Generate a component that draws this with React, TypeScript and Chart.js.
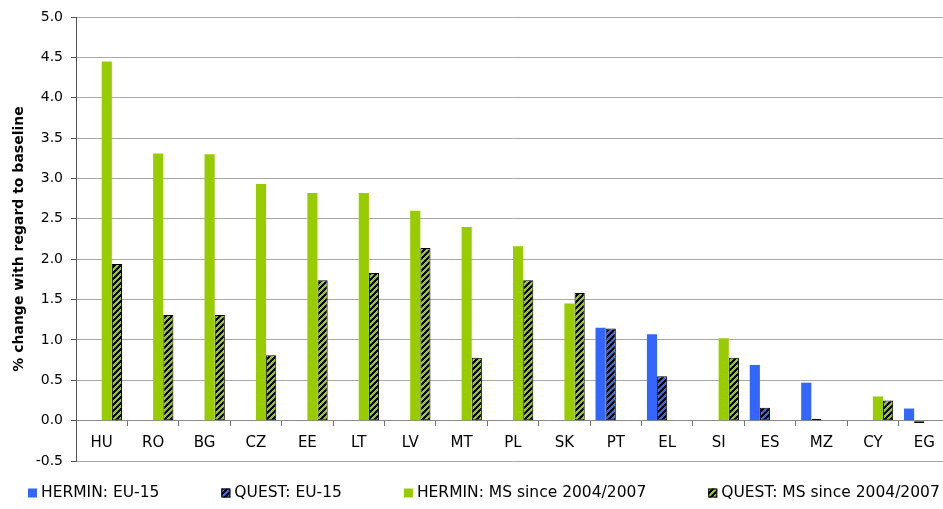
import React, { useEffect, useRef } from "react";
import { Chart, registerables } from "chart.js";

Chart.register(...registerables);

// Countries along the horizontal axis
const categories = ["HU", "RO", "BG", "CZ", "EE", "LT", "LV", "MT", "PL", "SK", "PT", "EL", "SI", "ES", "MZ", "CY", "EG"];

// % change with regard to baseline, per model and country group
const herminEU15 = [null, null, null, null, null, null, null, null, null, null, 1.15, 1.07, null, 0.69, 0.47, null, 0.15];
const questEU15 = [null, null, null, null, null, null, null, null, null, null, 1.14, 0.55, null, 0.16, 0.02, null, -0.03];
const herminMS = [4.45, 3.31, 3.30, 2.93, 2.82, 2.82, 2.60, 2.40, 2.16, 1.45, null, null, 1.02, null, null, 0.30, null];
const questMS = [1.94, 1.31, 1.31, 0.81, 1.74, 1.83, 2.14, 0.78, 1.74, 1.58, null, null, 0.78, null, null, 0.25, null];

const seriesLabels = ["HERMIN: EU-15", "QUEST: EU-15", "HERMIN: MS since 2004/2007", "QUEST: MS since 2004/2007"];

const Y_MIN = -0.5;
const Y_MAX = 5.0;
const Y_STEP = 0.5;

const BLUE = "#3366FF";
const GREEN = "#99CC00";
const FONT = '"DejaVu Sans", sans-serif';

// Diagonal black stripes over a base colour
function makeHatch(color: string): CanvasPattern | string {
  const n = 6;
  const c = document.createElement("canvas");
  c.width = n;
  c.height = n;
  const g = c.getContext("2d");
  if (!g) return color;
  g.fillStyle = color;
  g.fillRect(0, 0, n, n);
  g.fillStyle = "#000000";
  for (let x = 0; x < n; x++) {
    for (let y = 0; y < n; y++) {
      if ((x + y) % n < 3) g.fillRect(x, y, 1, 1);
    }
  }
  return g.createPattern(c, "repeat") || color;
}

// Legend row under the plot with wide, even gaps between entries
const bottomLegend = {
  id: "bottomLegend",
  afterDraw(chart: any) {
    const ctx: CanvasRenderingContext2D = chart.ctx;
    const yMid = 493;
    const box = 9;
    const gap = 62;
    let x = 28;
    ctx.save();
    ctx.font = `15.5px ${FONT}`;
    ctx.textBaseline = "middle";
    ctx.textAlign = "left";
    chart.data.datasets.forEach((ds: any) => {
      ctx.fillStyle = ds.backgroundColor;
      ctx.fillRect(x, yMid - box / 2, box, box);
      if (ds.borderWidth) {
        ctx.strokeStyle = "#000000";
        ctx.lineWidth = 1;
        ctx.strokeRect(x + 0.5, yMid - box / 2 + 0.5, box - 1, box - 1);
      }
      ctx.fillStyle = "#000000";
      const tx = x + box + 4;
      ctx.fillText(ds.label, tx, yMid);
      x = tx + ctx.measureText(ds.label).width + gap;
    });
    ctx.restore();
  },
};

export default function App() {
  const canvasRef = useRef<HTMLCanvasElement | null>(null);

  useEffect(() => {
    const canvas = canvasRef.current;
    if (!canvas) return;

    const solid = { borderWidth: 0 };
    const hatched = { borderWidth: 1, borderColor: "#000000", borderSkipped: false as const };

    const chart = new Chart(canvas, {
      type: "bar",
      data: {
        labels: categories,
        datasets: [
          { label: seriesLabels[0], data: herminEU15, backgroundColor: BLUE, ...solid },
          { label: seriesLabels[1], data: questEU15, backgroundColor: makeHatch(BLUE) as any, ...hatched },
          { label: seriesLabels[2], data: herminMS, backgroundColor: GREEN, ...solid },
          { label: seriesLabels[3], data: questMS, backgroundColor: makeHatch(GREEN) as any, ...hatched },
        ],
      },
      options: {
        responsive: false,
        animation: false,
        layout: { padding: { top: 17, bottom: 48, left: 0, right: 0 } },
        datasets: {
          bar: { categoryPercentage: 0.79, barPercentage: 1.0 },
        },
        plugins: {
          legend: { display: false },
          tooltip: { enabled: false },
        },
        scales: {
          x: {
            position: { y: 0 } as any,
            offset: true,
            grid: {
              offset: true,
              drawOnChartArea: false,
              drawTicks: true,
              tickLength: 5,
              tickColor: "#707070",
            },
            border: { display: true, color: "#8a8a8a", width: 1 },
            ticks: {
              autoSkip: false,
              maxRotation: 0,
              padding: 8,
              color: "#000000",
              font: { family: FONT, size: 15 },
            },
          },
          y: {
            min: Y_MIN,
            max: Y_MAX,
            afterFit: (scale: any) => {
              scale.width = 76;
            },
            grid: {
              color: "#a8a8a8",
              lineWidth: 1,
              drawTicks: true,
              tickLength: 5,
              tickColor: "#555555",
            },
            border: { display: true, color: "#555555", width: 1 },
            ticks: {
              stepSize: Y_STEP,
              padding: 8,
              color: "#000000",
              font: { family: FONT, size: 14 },
              callback: (v: any) => Number(v).toFixed(1),
            },
            title: {
              display: true,
              text: "% change with regard to baseline",
              color: "#000000",
              font: { family: FONT, size: 14, weight: "bold" },
              padding: { top: 11, bottom: 0 },
            },
          },
        },
      },
      plugins: [bottomLegend],
    });

    return () => chart.destroy();
  }, []);

  return (
    <div style={{ position: "absolute", left: 0, top: 0, width: 943, height: 509, overflow: "hidden", background: "#ffffff" }}>
      <canvas ref={canvasRef} width={950} height={509} style={{ display: "block" }} />
    </div>
  );
}
